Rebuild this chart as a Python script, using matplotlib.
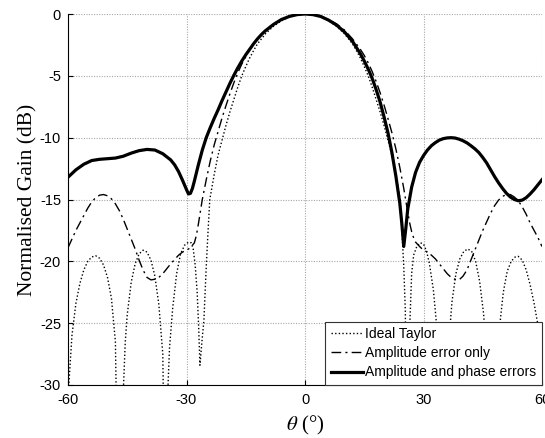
import matplotlib
matplotlib.use("Agg")
import matplotlib.pyplot as plt

# ---------------- data ----------------
theta_taylor = [-60, -59, -58, -57, -56, -55, -54, -53, -52, -51, -50, -49, -48, -47.1, -46, -45.5, -45, -44,
                -43, -42, -41, -40, -39, -38, -37, -36, -35.3, -34.8, -34.3, -33.5, -32.5, -31.5, -30.5,
                -29.5, -28.8, -28.3, -27.8, -27.3, -26.9, -26.6, -26.1, -25.6, -25.0, -24.5, -24.1, -23,
                -22, -21, -20, -19, -18, -17, -16, -15, -14, -13, -12, -10, -8, -6, -4, -2, 0,
                2, 4, 6, 8, 10, 12, 13, 14, 15, 16, 17, 18, 19, 20, 21, 22, 23, 24.1, 24.5, 25, 25.4,
                25.8, 26.2, 26.6, 27.0, 27.5, 28.3, 29.2, 30.0, 30.8, 31.5, 32.5, 33.5, 34.3, 34.9,
                35.5, 36.3, 37.2, 38.2, 39.2, 40.2, 41.2, 42.2, 43.2, 44.2, 45.2, 46.2, 47.4, 48.3,
                49.2, 50.2, 51.2, 52.2, 53.2, 54, 55, 56, 57, 58, 59, 60]
gain_taylor = [-31, -26.0, -23.4, -21.8, -20.7, -20.0, -19.65, -19.55, -19.75, -20.3, -21.3, -23.0, -26.5, -45, -30.5, -26.5, -24.3, -21.7,
               -20.2, -19.4, -19.1, -19.25, -19.9, -21.2, -23.5, -27.5, -45, -31, -27.0, -23.8, -21.0, -19.4, -18.7,
               -18.45, -18.5, -19.0, -20.3, -22.5, -25.5, -28.4, -26.5, -24.8, -20.4, -17.3, -15.0, -13.0,
               -11.4, -10.2, -9.0, -7.9, -6.9, -5.9, -5.0, -4.25, -3.55, -2.95, -2.4, -1.6, -1.0, -0.55, -0.25, -0.05, 0,
               -0.05, -0.25, -0.55, -1.0, -1.6, -2.4, -2.95, -3.55, -4.25, -5.0, -5.9, -6.9, -7.9, -9.0, -10.2, -11.4, -13.0, -15.0, -17.3, -20.4, -24.0,
               -45, -30, -24.5, -21.0, -19.5, -18.8, -18.5, -18.6, -19.2, -20.2, -22.3, -25.8, -32, -45,
               -33, -27, -23.3, -21.0, -19.8, -19.2, -19.0, -19.2, -20.0, -21.6, -24.2, -28.5, -45, -30,
               -25.5, -22.5, -20.8, -20.0, -19.65, -19.6, -19.9, -20.7, -21.9, -23.4, -25.2, -28.0]

theta_amp = [-60, -59, -58, -57, -56, -55, -54, -53, -52, -51, -50, -49, -48, -47, -46, -45, -44, -43, -42,
             -41, -40, -39, -38, -37, -36, -35, -34, -33, -32, -31, -30, -29, -28, -27.5, -27, -26.5, -26,
             -25, -24, -23, -22, -21, -20, -19, -18, -17, -16, -15, -14, -12, -10, -8, -6, -4, -2, 0,
             2, 4, 6, 8, 10, 12, 14, 15, 16, 17, 18, 19, 20, 21, 22, 23, 24, 25, 26, 26.5, 27, 27.5, 28,
             29, 30, 31, 32, 33, 34, 35, 36, 37, 38, 39, 40, 41, 42, 43, 44, 45, 46, 47, 48, 49, 50, 51,
             52, 53, 54, 55, 56, 57, 58, 59, 60]
gain_amp = [-18.9, -18.2, -17.5, -16.9, -16.3, -15.7, -15.2, -14.85, -14.65, -14.6, -14.7, -14.95, -15.35, -15.9, -16.6, -17.4, -18.2, -19.0, -19.9,
            -20.7, -21.3, -21.5, -21.45, -21.3, -21.0, -20.6, -20.2, -19.85, -19.5, -19.25, -19.1, -18.9, -18.5, -17.9, -17.0, -16.0, -15.0,
            -13.4, -11.9, -10.6, -9.5, -8.4, -7.4, -6.45, -5.55, -4.75, -4.05, -3.45, -2.9, -2.0, -1.3, -0.8, -0.45, -0.2, -0.05, 0,
            -0.05, -0.2, -0.45, -0.8, -1.3, -2.0, -2.85, -3.35, -3.95, -4.65, -5.45, -6.35, -7.35, -8.45, -9.6, -10.9, -12.4, -14.1, -16.0, -16.9, -17.6, -18.1, -18.45,
            -18.8, -19.1, -19.25, -19.5, -19.8, -20.2, -20.6, -21.0, -21.3, -21.45, -21.5, -21.2, -20.7, -19.9, -19.1, -18.3, -17.5, -16.8, -16.1, -15.5, -15.05, -14.75, -14.6,
            -14.6, -14.8, -15.1, -15.6, -16.2, -16.9, -17.5, -18.1, -18.8]

theta_ap = [-60, -58, -56, -54, -52, -50, -48, -46, -44, -42, -40, -38, -36, -34, -33, -32, -31, -30, -29.5,
            -29, -28.5, -28, -27, -26, -25, -24, -23, -22, -21, -20, -19, -18, -17, -16, -15, -14, -13,
            -12, -11, -10, -8, -6, -4, -2, 0, 2, 4, 6, 8, 10, 12, 14, 15, 16, 17, 18, 19, 20, 21, 22, 23,
            24, 24.5, 25, 25.5, 26, 27, 28, 29, 30, 31, 32, 33, 34, 35, 36, 37, 38, 39, 40, 41, 42, 43,
            44, 45, 46, 47, 48, 49, 50, 51, 52, 53, 54, 55, 56, 57, 58, 59, 60]
gain_ap = [-13.2, -12.6, -12.15, -11.85, -11.75, -11.7, -11.65, -11.5, -11.25, -11.05, -10.95, -11.0, -11.3, -11.8, -12.2, -12.75, -13.45, -14.2, -14.55,
           -14.5, -14.1, -13.5, -12.2, -11.0, -10.0, -9.2, -8.45, -7.75, -7.0, -6.3, -5.6, -4.95, -4.35, -3.8, -3.3, -2.85, -2.4,
           -2.0, -1.65, -1.35, -0.85, -0.45, -0.2, -0.05, 0, -0.05, -0.2, -0.5, -0.9, -1.45, -2.2, -3.2, -3.8, -4.45, -5.2, -6.1, -7.1, -8.3, -9.6, -11.2, -13.1,
           -15.3, -16.9, -18.8, -17.4, -15.8, -14.0, -12.8, -12.0, -11.45, -11.0, -10.65, -10.4, -10.2, -10.08, -10.02, -10.0, -10.03, -10.12, -10.25, -10.42, -10.65, -10.9,
           -11.2, -11.6, -12.05, -12.6, -13.15, -13.65, -14.1, -14.5, -14.8, -15.0, -15.1, -15.05, -14.85, -14.55, -14.2, -13.8, -13.4]

labels = ["Ideal Taylor", "Amplitude error only", "Amplitude and phase errors"]
xticks = [-60, -30, 0, 30, 60]
yticks = [-30, -25, -20, -15, -10, -5, 0]

# ---------------- figure ----------------
plt.rcParams['mathtext.fontset'] = 'stix'
fig = plt.figure(figsize=(5.45, 4.38), dpi=100)
W, H = 545, 438
ax = fig.add_axes([68 / W, 1 - 385 / H, (542 - 68) / W, (385 - 14) / H])

ax.plot(theta_taylor, gain_taylor, color='black', lw=1.0, linestyle=(0, (1, 1.6)), label=labels[0])
ax.plot(theta_amp, gain_amp, color='black', lw=1.0, linestyle=(0, (7, 3, 1.5, 3)), label=labels[1])
ax.plot(theta_ap, gain_ap, color='black', lw=2.3, linestyle='-', label=labels[2])

ax.set_xlim(-60, 60)
ax.set_ylim(-30, 0)
ax.set_xticks(xticks)
ax.set_yticks(yticks)
ax.set_xticklabels([str(v) for v in xticks], fontfamily='Liberation Sans', fontsize=10.5)
ax.set_yticklabels([str(v) for v in yticks], fontfamily='Liberation Sans', fontsize=10.5)
ax.tick_params(direction='in', length=3.5, width=0.8, pad=6, colors='black')
ax.tick_params(axis='y', pad=5)

ax.grid(True, color='#a8a8a8', linestyle=(0, (1, 1.3)), linewidth=0.8)
ax.set_axisbelow(True)
for s in ['top', 'right']:
    ax.spines[s].set_visible(False)
for s in ['left', 'bottom']:
    ax.spines[s].set_linewidth(0.8)
    ax.spines[s].set_color('black')

ax.set_ylabel('Normalised Gain (dB)', fontfamily='Liberation Serif', fontsize=15.5, labelpad=2)
ax.set_xlabel(r'$\theta$ (°)', fontfamily='Liberation Serif', fontsize=15, labelpad=5)

leg = ax.legend(loc='lower right', borderaxespad=0, fancybox=False, framealpha=1,
                edgecolor='#333333', prop={'family': 'Liberation Sans', 'size': 10},
                handlelength=2.3, handletextpad=0.2, labelspacing=0.37, borderpad=0.4)
leg.get_frame().set_linewidth(0.8)

fig.savefig('out.png', dpi=100)
